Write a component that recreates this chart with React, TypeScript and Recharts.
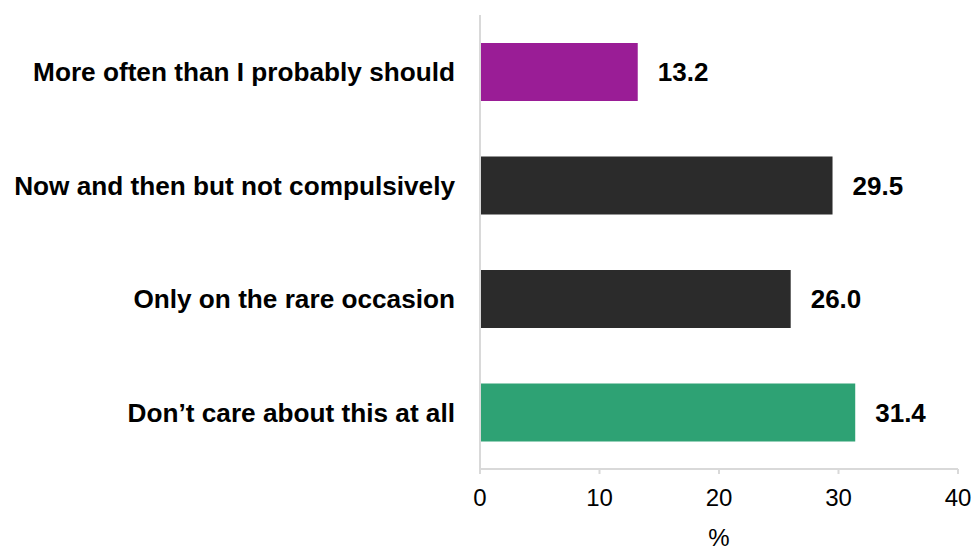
import { Bar, BarChart, Cell, LabelList, XAxis, YAxis } from "recharts";

const categories = [
  "More often than I probably should",
  "Now and then but not compulsively",
  "Only on the rare occasion",
  "Don\u2019t care about this at all"
];
const shares = [13.2, 29.5, 26.0, 31.4];
const barColors = ["#9a1d96", "#2b2b2b", "#2b2b2b", "#2ea274"];
const xTicks = [0, 10, 20, 30, 40];

const rows = categories.map((name, i) => ({ name, value: shares[i] }));

export default function App() {
  return (
    <div
      style={{
        position: "absolute",
        left: 0,
        top: 0,
        background: "#fff",
        fontFamily: "'Liberation Sans', Arial, sans-serif"
      }}
    >
      <BarChart
        data={rows}
        height={552}
        layout="vertical"
        margin={{ top: 15, right: 18, bottom: 0, left: 0 }}
        width={976}
      >
        <XAxis
          axisLine={{ stroke: "#d9d9d9", strokeWidth: 2 }}
          domain={[0, 40]}
          height={83}
          label={{ value: "%", position: "insideBottom", offset: 6, fill: "#000", fontSize: 24 }}
          tick={{ fill: "#000", fontSize: 24 }}
          tickLine={{ stroke: "#d9d9d9", strokeWidth: 2 }}
          tickMargin={15}
          tickSize={5}
          ticks={xTicks}
          type="number"
        />
        <YAxis
          axisLine={{ stroke: "#d9d9d9", strokeWidth: 2 }}
          dataKey="name"
          tick={{ fill: "#000", fontSize: 26.2, fontWeight: "bold" }}
          tickLine={false}
          tickMargin={25}
          tickSize={0}
          type="category"
          width={480}
        />
        <Bar barSize={58} dataKey="value" isAnimationActive={false}>
          {rows.map((row, i) => (
            <Cell fill={barColors[i]} key={row.name} />
          ))}
          <LabelList
            dataKey="value"
            fill="#000"
            fontSize={26}
            fontWeight="bold"
            formatter={(v: number) => v.toFixed(1)}
            offset={20}
            position="right"
          />
        </Bar>
      </BarChart>
    </div>
  );
}
